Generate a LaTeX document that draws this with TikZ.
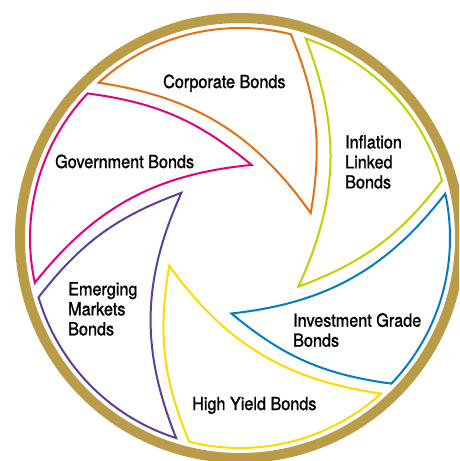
\documentclass[tikz,border=0pt]{standalone}
\usepackage{fontspec}
\setmainfont{TeX Gyre Heros}[FakeStretch=0.9,FakeBold=1.3]
\usetikzlibrary{calc}
\definecolor{ringgold}{RGB}{186,155,72}
\definecolor{corporg}{RGB}{228,110,20}
\definecolor{govmag}{RGB}{228,0,125}
\definecolor{emgpurple}{RGB}{92,64,150}
\definecolor{hyyellow}{RGB}{255,218,0}
\definecolor{igblue}{RGB}{0,125,195}
\definecolor{inflime}{RGB}{190,210,0}
% #1 name, #2 colour, #3 outer start angle, #4 outer end angle, #5 tip angle, #6 tip radius (screen angles, clockwise)
\newcommand\drawblade[6]{%
  \coordinate (#1-p1) at ($(O)+(-#3:210)$);
  \coordinate (#1-p2) at ($(O)+(-#4:210)$);
  \coordinate (#1-t) at ($(O)+(-#5:#6)$);
  \draw[bladeline,#2] (#1-t) to[bend right=23] (#1-p1)
     arc[start angle=-#3, end angle=-#4, radius=210]
     to[bend left=16] cycle;
}
\begin{document}
\begin{tikzpicture}[x=1pt,y=1pt,
  bladeline/.style={line width=2pt, line join=miter},
  lbl/.style={inner sep=0pt, font=\fontsize{18}{20}\selectfont, text=black, align=left}]
\useasboundingbox (0,0) rectangle (459,-461);
\clip (0,0) rectangle (459,-461);
\coordinate (O) at (240,-238);
\draw[ringgold, line width=10pt] (O) circle[radius=220];
\drawblade{corp}{corporg}{227.7}{284}{340.6}{75}
\drawblade{gov}{govmag}{167.7}{223.5}{279}{74}
\drawblade{emg}{emgpurple}{107.7}{163.6}{217.6}{74}
\drawblade{hy}{hyyellow}{47.8}{104}{158.6}{76}
\drawblade{ig}{igblue}{-12.2}{43.9}{96.5}{76}
\drawblade{infl}{inflime}{-71.8}{-15.9}{39.9}{76}
\node[lbl, anchor=base west] (tcorp) at (163,-88) {Corporate Bonds};
\node[lbl, anchor=base west] (tgov) at (55,-168) {Government Bonds};
\node[lbl, anchor=north west] (tinfl) at (345,-135) {Inflation\\Linked\\Bonds};
\node[lbl, anchor=north west] (temg) at (68,-282) {Emerging\\Markets\\Bonds};
\node[lbl, anchor=north west] (tig) at (293,-313) {Investment Grade\\Bonds};
\node[lbl, anchor=base west] (thy) at (192,-410) {High Yield Bonds};
\end{tikzpicture}
\end{document}
